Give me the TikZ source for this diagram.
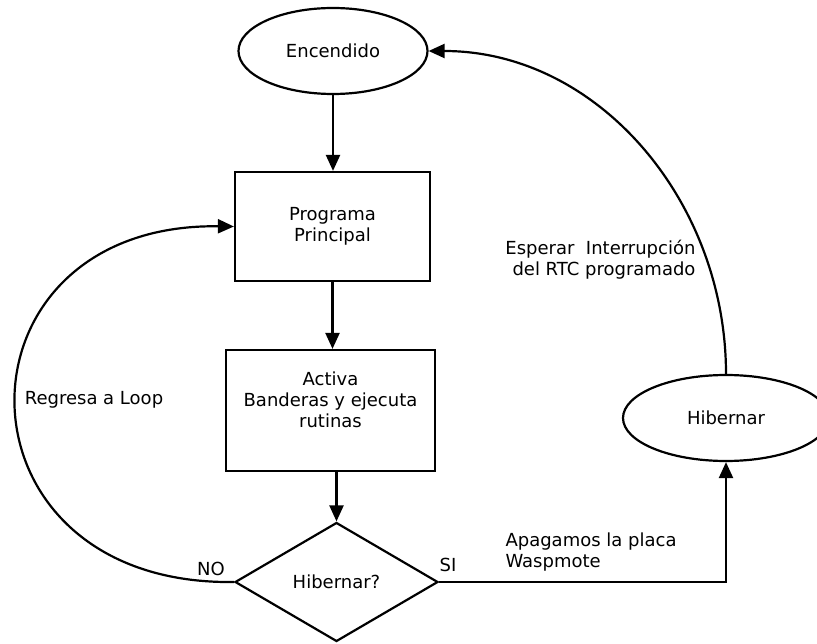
\documentclass[tikz,border=0pt]{standalone}
\usepackage{fontspec}
\setmainfont{DejaVu Sans}
\usetikzlibrary{shapes.geometric,arrows.meta}
\begin{document}
\begin{tikzpicture}[x=1pt,y=-1pt,
  every node/.style={font=\fontsize{18}{21}\selectfont},
  flow state/.style={draw,ellipse,line width=2.2pt,inner sep=0pt,minimum width=#1,minimum height=86pt},
  flow box/.style={draw,rectangle,line width=2.2pt,align=center,inner sep=0pt,minimum width=#1},
  flow arrow/.style={line width=2.2pt,-{Triangle[length=16pt,width=14pt]}}]
  \useasboundingbox (0,0) rectangle (817,644);

\node[flow state=189pt] (enc) at (333,51) {Encendido};
\node[flow box=195pt,minimum height=109pt] (prog) at (332.5,226.5) {Programa\\Principal};
\node[flow box=209pt,minimum height=121pt] (act) at (330.5,410.5) {Activa\\Banderas y ejecuta\\rutinas\\~};
\node[draw,diamond,line width=2.2pt,inner sep=0pt,minimum width=203pt,minimum height=119pt] (dec) at (336.5,582) {Hibernar?};
\node[flow state=206pt] (hib) at (726,418) {Hibernar};

\draw[flow arrow] (enc.south) -- (enc.south |- prog.north);
\draw[flow arrow] (prog.south) -- (prog.south |- act.north);
\draw[flow arrow] (dec.north |- act.south) -- (dec.north);
\draw[flow arrow] (dec.east) -- (hib.south |- dec.east) -- (hib.south);
\draw[flow arrow] (hib.north) .. controls +(0,-172) and +(170,0) .. (enc.east);
\draw[flow arrow] (dec.west) .. controls +(-290,4) and +(-290,-4) .. (prog.west);

\node (loop) at (94,400) {Regresa a Loop};
\node (no) at (211,569) {NO};
\node (si) at (448,565) {SI};
\node[anchor=west,align=left] (off) at (502,552.5) {Apagamos la placa\\Waspmote};
\node[anchor=east,align=right] (rtc) at (699,260) {Esperar\ \ Interrupción\\del RTC programado};
\end{tikzpicture}
\end{document}
